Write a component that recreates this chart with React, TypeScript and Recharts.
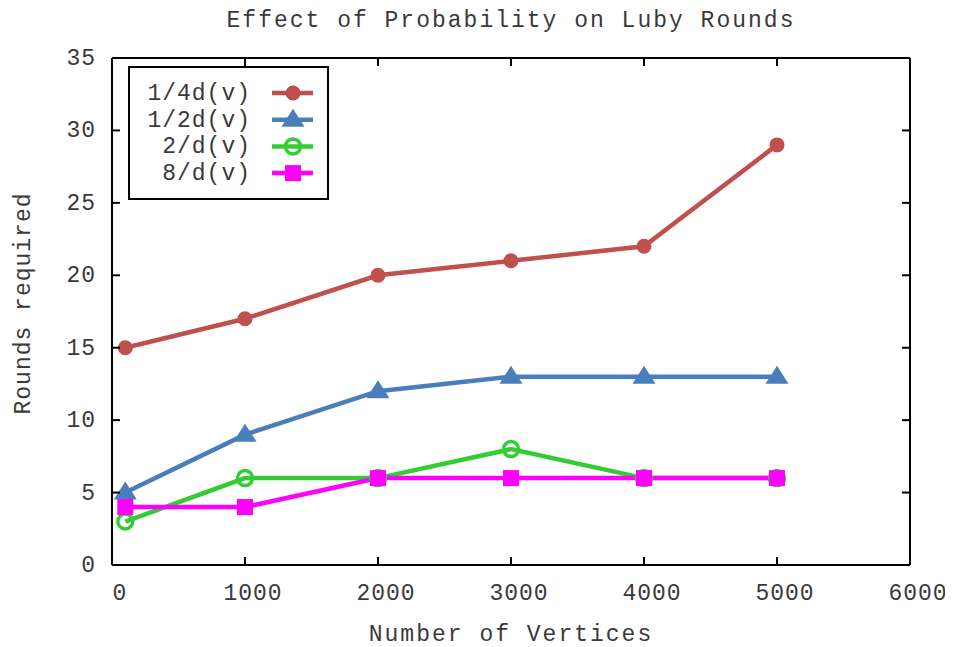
import { LineChart, Line, XAxis, YAxis } from 'recharts';

// values
const vertices = [100, 1000, 2000, 3000, 4000, 5000];
const quarterRounds = [15, 17, 20, 21, 22, 29];
const halfRounds = [5, 9, 12, 13, 13, 13];
const twoRounds = [3, 6, 6, 8, 6, 6];
const eightRounds = [4, 4, 6, 6, 6, 6];

const xTicks = [0, 1000, 2000, 3000, 4000, 5000, 6000];
const yTicks = [0, 5, 10, 15, 20, 25, 30, 35];

const seriesNames = ['1/4d(v)', '1/2d(v)', '2/d(v)', '8/d(v)'];
const seriesKeys = ['quarter', 'half', 'two', 'eight'];
const seriesColors = ['#c0504d', '#4a7ebb', '#33cc33', '#ff00ff'];
const seriesMarkers = ['circle', 'triangle', 'ring', 'square'];

const data = vertices.map((v, i) => ({
  vertices: v,
  quarter: quarterRounds[i],
  half: halfRounds[i],
  two: twoRounds[i],
  eight: eightRounds[i],
}));

const FONT = "'Liberation Mono', 'DejaVu Sans Mono', monospace";
const TEXT = '#3a3a3a';

function Marker({ kind, cx, cy, color }: { kind: string; cx: number; cy: number; color: string }) {
  if (kind === 'circle') return <circle cx={cx} cy={cy} r={7.5} fill={color} />;
  if (kind === 'triangle')
    return (
      <polygon
        points={`${cx},${cy - 11} ${cx + 11.5},${cy + 7} ${cx - 11.5},${cy + 7}`}
        fill={color}
      />
    );
  if (kind === 'ring')
    return <circle cx={cx} cy={cy} r={7.5} fill="none" stroke={color} strokeWidth={3.5} />;
  return <rect x={cx - 8} y={cy - 8} width={16} height={16} fill={color} />;
}

const BottomTick = ({ x, y, payload }: any) => (
  <g>
    <line x1={x} x2={x} y1={y} y2={y - 8} stroke="#000" strokeWidth={2} />
    <text
      x={x + 8}
      y={y + 29}
      textAnchor="middle"
      dominantBaseline="central"
      fontFamily={FONT}
      fontSize={23}
      letterSpacing={1}
      fill={TEXT}
    >
      {payload.value}
    </text>
  </g>
);

const LeftTick = ({ x, y, payload }: any) => (
  <g>
    <line x1={x} x2={x + 8} y1={y} y2={y} stroke="#000" strokeWidth={2} />
    <text
      x={x - 16}
      y={y + 1}
      textAnchor="end"
      dominantBaseline="central"
      fontFamily={FONT}
      fontSize={23}
      letterSpacing={1}
      fill={TEXT}
    >
      {payload.value}
    </text>
  </g>
);

const TopTick = ({ x, y }: any) => (
  <line x1={x} x2={x} y1={y} y2={y + 8} stroke="#000" strokeWidth={2} />
);

const RightTick = ({ x, y }: any) => (
  <line x1={x} x2={x - 8} y1={y} y2={y} stroke="#000" strokeWidth={2} />
);

function LegendBox() {
  return (
    <svg
      width={201}
      height={134}
      style={{ position: 'absolute', left: 120, top: 58, overflow: 'visible' }}
    >
      <rect x={1} y={1} width={199} height={132} fill="#fff" stroke="#000" strokeWidth={2} />
      {seriesNames.map((name, i) => {
        const cy = 27 + i * 26.7;
        return (
          <g key={name}>
            <text
              x={123}
              y={cy + 1}
              textAnchor="end"
              dominantBaseline="central"
              fontFamily={FONT}
              fontSize={23}
              letterSpacing={1}
              fill={TEXT}
            >
              {name}
            </text>
            <line x1={144} x2={185} y1={cy} y2={cy} stroke={seriesColors[i]} strokeWidth={4.5} />
            <Marker kind={seriesMarkers[i]} cx={165} cy={cy} color={seriesColors[i]} />
          </g>
        );
      })}
    </svg>
  );
}

export default function App() {
  return (
    <div style={{ position: 'relative', width: 945, height: 640 }}>
      <div
        style={{
          position: 'absolute',
          left: 104,
          width: 798,
          top: 2,
          textAlign: 'center',
          fontFamily: FONT,
          fontSize: 23,
          lineHeight: '23px',
          letterSpacing: 2,
          color: TEXT,
        }}
      >
        Effect of Probability on Luby Rounds
      </div>
      <LineChart
        width={945}
        height={640}
        data={data}
        margin={{ top: 49, right: 42, left: 0, bottom: 0 }}
      >
        <XAxis
          dataKey="vertices"
          type="number"
          domain={[0, 6000]}
          ticks={xTicks}
          interval={0}
          allowDataOverflow
          height={83}
          tickSize={0}
          tickMargin={0}
          tick={BottomTick}
          axisLine={{ stroke: '#000', strokeWidth: 2 }}
          label={({ viewBox }: any) => (
            <text
              x={viewBox.x + viewBox.width / 2}
              y={viewBox.y + 76}
              textAnchor="middle"
              fontFamily={FONT}
              fontSize={23}
              letterSpacing={2}
              fill={TEXT}
            >
              Number of Vertices
            </text>
          )}
        />
        <XAxis
          xAxisId="top"
          orientation="top"
          dataKey="vertices"
          type="number"
          domain={[0, 6000]}
          ticks={xTicks}
          interval={0}
          allowDataOverflow
          height={1}
          tickSize={0}
          tickMargin={0}
          tick={TopTick}
          axisLine={{ stroke: '#000', strokeWidth: 2 }}
        />
        <YAxis
          type="number"
          domain={[0, 35]}
          ticks={yTicks}
          interval={0}
          allowDataOverflow
          width={104}
          tickSize={0}
          tickMargin={0}
          tick={LeftTick}
          axisLine={{ stroke: '#000', strokeWidth: 2 }}
          label={({ viewBox }: any) => (
            <text
              transform={`translate(22, ${viewBox.y + viewBox.height / 2 - 8}) rotate(-90)`}
              textAnchor="middle"
              fontFamily={FONT}
              fontSize={23}
              letterSpacing={1}
              fill={TEXT}
            >
              Rounds required
            </text>
          )}
        />
        <YAxis
          yAxisId="right"
          orientation="right"
          type="number"
          domain={[0, 35]}
          ticks={yTicks}
          interval={0}
          allowDataOverflow
          width={1}
          tickSize={0}
          tickMargin={0}
          tick={RightTick}
          axisLine={{ stroke: '#000', strokeWidth: 2 }}
        />
        {seriesKeys.map((key, i) => (
          <Line
            key={key}
            dataKey={key}
            name={seriesNames[i]}
            type="linear"
            stroke={seriesColors[i]}
            strokeWidth={4.5}
            isAnimationActive={false}
            activeDot={false}
            dot={(p: any) => (
              <Marker
                key={`${key}-${p.index}`}
                kind={seriesMarkers[i]}
                cx={p.cx}
                cy={p.cy}
                color={seriesColors[i]}
              />
            )}
          />
        ))}
      </LineChart>
      <LegendBox />
    </div>
  );
}
